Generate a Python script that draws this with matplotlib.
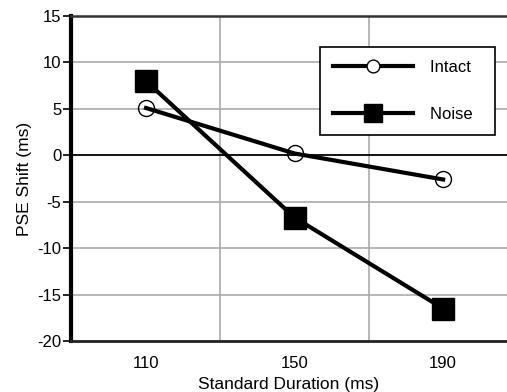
import numpy as np
import matplotlib
matplotlib.use('Agg')
from matplotlib import pyplot as plt

plt.rcParams['font.family'] = ['Liberation Sans', 'DejaVu Sans']
plt.rcParams['axes.unicode_minus'] = False

durations = [110, 150, 190]
intact = [5.1, 0.2, -2.6]
noise = [8.0, -6.7, -16.5]
yticks = [-20, -15, -10, -5, 0, 5, 10, 15]
xgrid = [130, 170]

fig = plt.figure(figsize=(5.07, 3.92), dpi=100)
ax = fig.add_axes([0.140, 0.130, 0.860, 0.829])

# grid
for g in xgrid:
    ax.axvline(g, color='#aaaaaa', lw=1.2, zorder=1)
for g in yticks:
    if g == 0:
        ax.axhline(g, color='black', lw=1.3, zorder=1)
    elif g != -20:
        ax.axhline(g, color='#aaaaaa', lw=1.2, zorder=1)

ax.plot(durations, intact, color='black', lw=3, marker='o', ms=11.5,
        mfc='none', mec='black', mew=1.0, label='Intact  ', zorder=3)
ax.plot(durations, noise, color='black', lw=3, marker='s', ms=16,
        mfc='black', mec='black', label='Noise  ', zorder=3)

ax.set_xlim(89.8, 207.2)
ax.set_ylim(-20, 15)
ax.set_xticks(durations)
ax.set_yticks(yticks)
ax.tick_params(axis='x', length=0, pad=11, labelsize=12)
ax.tick_params(axis='y', direction='out', length=6, width=1.2, labelsize=12, pad=1)

ax.spines['right'].set_visible(False)
ax.spines['left'].set_linewidth(3)
ax.spines['bottom'].set_linewidth(2)
ax.spines['top'].set_linewidth(1.8)
ax.spines['top'].set_color('#333333')
ax.spines['bottom'].set_color('#222222')

ax.set_xlabel('Standard Duration (ms)', fontsize=12.5, labelpad=4)
ax.set_ylabel('PSE Shift (ms)', fontsize=12.5, labelpad=4)

leg = ax.legend(loc='upper right', bbox_to_anchor=(0.972, 0.905), fontsize=12,
                markerscale=0.8, handlelength=4.8, labelspacing=1.9,
                borderpad=0.8, borderaxespad=0, handletextpad=1.0,
                fancybox=False, framealpha=1, edgecolor='black')
leg.get_frame().set_linewidth(1.2)
leg.get_lines()[0].set_markerfacecolor('white')

fig.savefig('out.png', dpi=100)
